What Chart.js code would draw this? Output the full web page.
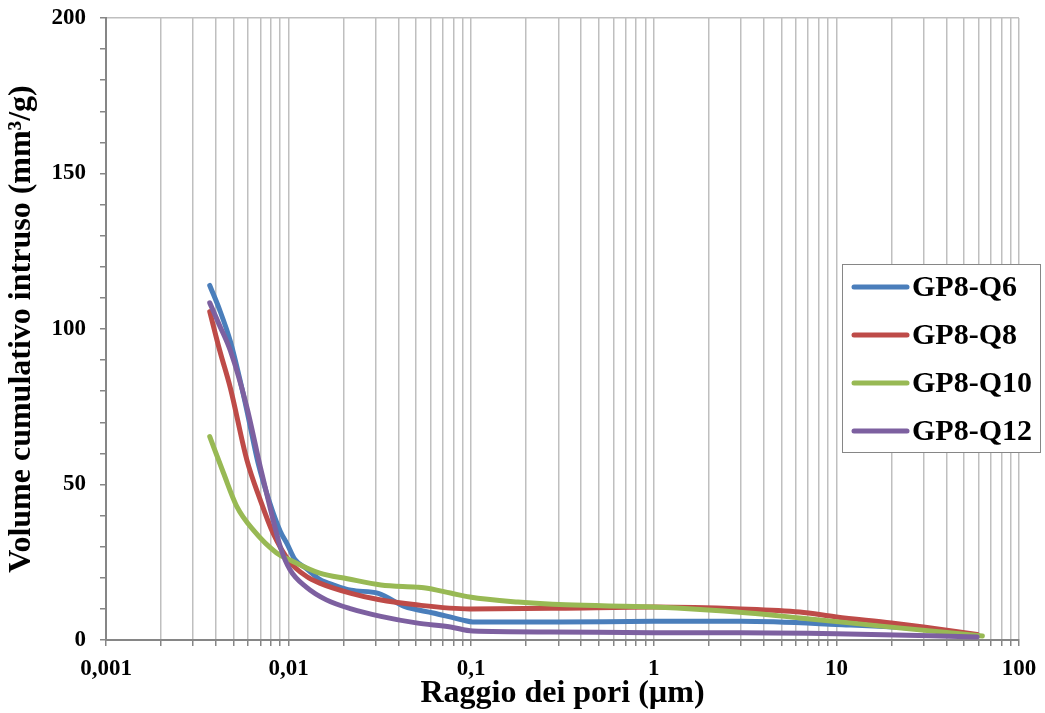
<!DOCTYPE html>
<html>
<head>
<meta charset="utf-8">
<script src="https://cdn.jsdelivr.net/npm/chart.js@4/dist/chart.umd.min.js"></script>
<style>
  body { margin: 0; background: #fff; }
  #wrap { width: 1045px; height: 713px; }
</style>
</head>
<body>
<div id="wrap"><canvas id="poriChart" width="1045" height="713"></canvas></div>
<script>
// --- DATI ---
const seriesNames = ['GP8-Q6', 'GP8-Q8', 'GP8-Q10', 'GP8-Q12'];
const seriesColors = ['#4A7EBB', '#BE4B48', '#98B954', '#7D60A0'];

const q6Raggio = [0.0037, 0.0042, 0.0048, 0.0053, 0.0059, 0.0068, 0.0079, 0.0090, 0.0098, 0.0108, 0.0125, 0.0148, 0.0180, 0.022, 0.031, 0.043, 0.062, 0.090, 0.102, 0.3, 1, 3, 10, 30, 59];
const q6Volume = [114, 106, 96, 86, 74, 57, 44, 35, 31, 26, 23, 19.5, 17.5, 16, 15, 10.8, 8.7, 6.4, 5.8, 5.8, 6, 6, 5, 3.5, 1.5];

const q8Raggio = [0.0037, 0.0042, 0.0048, 0.0059, 0.0070, 0.0082, 0.0102, 0.0125, 0.0148, 0.022, 0.031, 0.05, 0.098, 0.3, 1, 3, 6.3, 10, 20, 30, 59];
const q8Volume = [105.6, 93, 81, 58, 45, 34.5, 25, 20.5, 18.3, 15, 13, 11.3, 10, 10.2, 10.6, 10, 9, 7.4, 5.5, 4.2, 1.8];

const q10Raggio = [0.0037, 0.0044, 0.0052, 0.0064, 0.0086, 0.0102, 0.0148, 0.021, 0.032, 0.05, 0.055, 0.077, 0.098, 0.18, 0.33, 1, 3.3, 6.3, 22, 63];
const q10Volume = [65.4, 53.7, 43, 35.4, 28, 25.7, 21.5, 19.7, 17.7, 17, 16.8, 15.1, 13.8, 12.2, 11.3, 10.6, 8.7, 7.1, 3.9, 1.3];

const q12Raggio = [0.0037, 0.0042, 0.0048, 0.0059, 0.0070, 0.0079, 0.0090, 0.0102, 0.0125, 0.0161, 0.022, 0.032, 0.05, 0.077, 0.102, 0.27, 1, 3, 10, 59];
const q12Volume = [108.4, 101, 93, 75, 55.6, 42.8, 30, 22.5, 17, 12.9, 10, 7.6, 5.5, 4.2, 2.9, 2.6, 2.3, 2.3, 2.0, 1.0];

const xMajorTicks = [0.001, 0.01, 0.1, 1, 10, 100];
const xTickLabels = ['0,001', '0,01', '0,1', '1', '10', '100'];
const yTickLabels = [0, 50, 100, 150, 200];

const FONT = "'Liberation Serif', 'Times New Roman', serif";
const AXIS_COLOR = '#868686';
const GRID_COLOR = '#BFBFBF';

// --- COSTRUZIONE DATASET ---
const toPoints = (xs, ys) => xs.map((x, i) => ({ x: x, y: ys[i] }));
const allSeries = [
  toPoints(q6Raggio, q6Volume),
  toPoints(q8Raggio, q8Volume),
  toPoints(q10Raggio, q10Volume),
  toPoints(q12Raggio, q12Volume)
];

const datasets = allSeries.map((pts, i) => ({
  label: seriesNames[i],
  data: pts,
  borderColor: seriesColors[i],
  backgroundColor: seriesColors[i],
  borderWidth: 5,
  pointRadius: 0,
  cubicInterpolationMode: 'monotone',
  borderCapStyle: 'round',
  borderJoinStyle: 'round',
  fill: false,
  clip: false,
  order: seriesNames.length - i
}));

// tacche minori della scala logaritmica (1..9 per decade)
const xAllTicks = [];
xMajorTicks.forEach((dec, i) => {
  if (i === xMajorTicks.length - 1) { xAllTicks.push(dec); return; }
  for (let m = 1; m <= 9; m++) xAllTicks.push(+(dec * m).toPrecision(3));
});

// Legenda disegnata nel riquadro come nell'originale
const boxLegend = {
  id: 'boxLegend',
  afterDraw(chart) {
    const ctx = chart.ctx;
    const bx = 842, by = 264, bw = 198, bh = 188;
    ctx.save();
    ctx.fillStyle = '#fff';
    ctx.fillRect(bx, by, bw, bh);
    ctx.strokeStyle = AXIS_COLOR;
    ctx.lineWidth = 1;
    ctx.strokeRect(bx + 0.5, by + 0.5, bw, bh);
    ctx.font = 'bold 30px ' + FONT;
    ctx.textBaseline = 'middle';
    ctx.textAlign = 'left';
    chart.data.datasets.forEach((ds, i) => {
      const cy = 287 + i * 48;
      ctx.strokeStyle = ds.borderColor;
      ctx.lineWidth = 5;
      ctx.lineCap = 'round';
      ctx.beginPath();
      ctx.moveTo(854, cy);
      ctx.lineTo(907, cy);
      ctx.stroke();
      ctx.fillStyle = '#000';
      ctx.fillText(ds.label, 912, cy + 1);
    });
    ctx.restore();
  }
};

const ctx = document.getElementById('poriChart').getContext('2d');
new Chart(ctx, {
  type: 'line',
  data: { datasets: datasets },
  plugins: [boxLegend],
  options: {
    responsive: false,
    animation: false,
    layout: { padding: { top: 18, right: 26, bottom: 0, left: 0 } },
    plugins: {
      legend: { display: false },
      tooltip: { enabled: false }
    },
    scales: {
      x: {
        type: 'logarithmic',
        min: 0.001,
        max: 100,
        afterBuildTicks: (scale) => { scale.ticks = xAllTicks.map(v => ({ value: v })); },
        afterFit: (scale) => { scale.height = 73; scale.paddingLeft = 0; scale.paddingRight = 0; },
        border: { color: AXIS_COLOR, width: 2 },
        grid: {
          color: GRID_COLOR,
          lineWidth: 1.5,
          tickColor: AXIS_COLOR,
          tickLength: 6
        },
        ticks: {
          autoSkip: false,
          maxRotation: 0,
          padding: 9,
          color: '#000',
          font: { family: FONT, size: 23, weight: 'bold', lineHeight: 1.2 },
          callback: (value) => {
            const idx = xMajorTicks.findIndex(d => Math.abs(value - d) / d < 1e-6);
            return idx >= 0 ? xTickLabels[idx] : '';
          }
        },
        title: {
          display: true,
          text: 'Raggio dei pori (µm)',
          color: '#000',
          font: { family: FONT, size: 32, weight: 'bold', lineHeight: 1.2 },
          padding: { top: 6, bottom: 0 }
        }
      },
      y: {
        min: 0,
        max: 200,
        afterFit: (scale) => { scale.width = 106; scale.paddingTop = 0; scale.paddingBottom = 0; },
        border: { color: AXIS_COLOR, width: 2 },
        grid: {
          color: (c) => (c.tick && c.tick.value === 200 ? GRID_COLOR : 'rgba(0,0,0,0)'),
          lineWidth: 1.5,
          tickColor: AXIS_COLOR,
          tickLength: 6
        },
        ticks: {
          stepSize: 10,
          padding: 14,
          color: '#000',
          font: { family: FONT, size: 23, weight: 'bold', lineHeight: 1.2 },
          callback: (value) => (yTickLabels.includes(value) ? String(value) : '')
        },
        title: {
          display: true,
          text: 'Volume cumulativo intruso (mm³/g)',
          color: '#000',
          font: { family: FONT, size: 32, weight: 'bold', lineHeight: 1.2 },
          padding: { top: 3, bottom: 0 }
        }
      }
    }
  }
});
</script>
</body>
</html>
